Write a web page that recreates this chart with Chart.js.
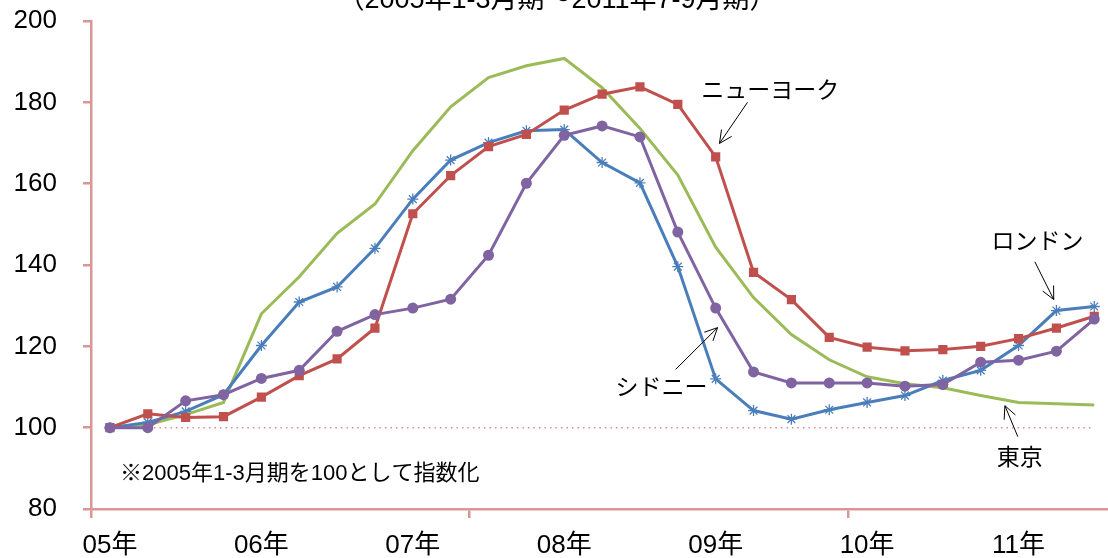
<!DOCTYPE html>
<html lang="ja">
<head>
<meta charset="utf-8">
<title>主要都市の住宅価格指数</title>
<script src="https://cdn.jsdelivr.net/npm/chart.js@4.4.1/dist/chart.umd.min.js"></script>
<style>
  html, body { margin: 0; padding: 0; background: #fff; overflow: hidden; }
  #wrap { width: 1120px; height: 558px; }
</style>
</head>
<body>
<div id="wrap"><canvas id="priceChart" width="1120" height="558"></canvas></div>
<script>
// quarters 2005 1-3 ... 2011 7-9
const quarters = [
  '05/1-3', '05/4-6', '05/7-9', '05/10-12',
  '06/1-3', '06/4-6', '06/7-9', '06/10-12',
  '07/1-3', '07/4-6', '07/7-9', '07/10-12',
  '08/1-3', '08/4-6', '08/7-9', '08/10-12',
  '09/1-3', '09/4-6', '09/7-9', '09/10-12',
  '10/1-3', '10/4-6', '10/7-9', '10/10-12',
  '11/1-3', '11/4-6', '11/7-9'
];
const yearTicks = ['05年', '06年', '07年', '08年', '09年', '10年', '11年'];

const newYork = [100, 103.4, 102.5, 102.7, 107.5, 112.8, 116.9, 124.5, 152.6, 162.0, 169.1, 172.1,
  178.1, 182.0, 183.8, 179.5, 166.6, 138.2, 131.5, 122.2, 119.8, 118.9, 119.2, 120.0, 121.9, 124.5, 127.4];
const london = [100, 101.3, 104.0, 108.1, 120.2, 130.9, 134.6, 144.1, 156.2, 165.8, 170.1, 173.0,
  173.3, 165.2, 160.2, 139.6, 112.0, 104.2, 102.1, 104.4, 106.2, 107.9, 111.6, 114.1, 120.2, 128.8, 129.8];
const sydney = [100, 100, 106.6, 108.1, 112.1, 114.1, 123.7, 127.8, 129.4, 131.6, 142.4, 160.1,
  171.9, 174.2, 171.5, 148.1, 129.4, 113.7, 111.0, 111.0, 111.0, 110.2, 110.6, 116.1, 116.6, 118.8, 126.7];
const tokyo = [100, 100.7, 103.2, 106.2, 128.0, 137.1, 147.8, 155.0, 168.1, 178.9, 186.1, 189.0,
  190.8, 183.6, 173.6, 162.1, 144.4, 132.0, 122.9, 116.7, 112.5, 110.8, 109.8, 107.9, 106.2, 105.9, 105.6];
const baseValue = 100;

// callouts in data space: [category index, value]
const callouts = [
  { text: 'ニューヨーク', at: [17.44, 183.2], from: [16.84, 180.0], to: [16.1, 169.9] },
  { text: 'ロンドン', at: [24.5, 146.0], from: [24.43, 140.8], to: [24.93, 131.5] },
  { text: 'シドニー', at: [14.57, 110.1], from: [14.94, 114.3], to: [16.05, 124.6] },
  { text: '東京', at: [24.03, 92.9], from: [23.98, 97.8], to: [23.64, 105.4] }
];

const FONT = "'Liberation Sans', 'Noto Sans CJK JP', sans-serif";
const JP_FONT = "'Noto Sans CJK JP', sans-serif";
const AXIS = '#D99694';

function drawArrow(ctx, x1, y1, x2, y2) {
  const ang = Math.atan2(y2 - y1, x2 - x1);
  const head = 14;
  ctx.beginPath();
  ctx.moveTo(x1, y1);
  ctx.lineTo(x2, y2);
  ctx.moveTo(x2 - head * Math.cos(ang - 0.45), y2 - head * Math.sin(ang - 0.45));
  ctx.lineTo(x2, y2);
  ctx.lineTo(x2 - head * Math.cos(ang + 0.45), y2 - head * Math.sin(ang + 0.45));
  ctx.stroke();
}

const overlay = {
  id: 'overlay',
  beforeDatasetsDraw(chart) {
    const { ctx, scales: { x, y } } = chart;
    const py = y.getPixelForValue(baseValue);
    ctx.save();
    ctx.strokeStyle = '#E8878A';
    ctx.lineWidth = 1.5;
    ctx.setLineDash([1.5, 4]);
    ctx.beginPath();
    ctx.moveTo(x.getPixelForValue(0), py);
    ctx.lineTo(x.getPixelForValue(quarters.length - 1), py);
    ctx.stroke();
    ctx.restore();
  },
  afterDraw(chart) {
    const { ctx, scales: { x, y } } = chart;
    ctx.save();
    ctx.fillStyle = '#000';

    // subtitle, cut off at the top edge
    ctx.font = '27px ' + FONT;
    ctx.textAlign = 'center';
    ctx.textBaseline = 'alphabetic';
    ctx.fillText('（2005年1-3月期～2011年7-9月期）', 557, 8);

    // note
    ctx.font = '22px ' + FONT;
    ctx.textAlign = 'left';
    ctx.textBaseline = 'middle';
    ctx.fillText('※2005年1-3月期を100として指数化', 120, 474);

    // callouts
    ctx.font = '23px ' + JP_FONT;
    ctx.textAlign = 'center';
    ctx.strokeStyle = '#000';
    ctx.lineWidth = 1;
    callouts.forEach(c => {
      ctx.fillText(c.text, x.getPixelForValue(c.at[0]), y.getPixelForValue(c.at[1]));
      drawArrow(ctx,
        x.getPixelForValue(c.from[0]), y.getPixelForValue(c.from[1]),
        x.getPixelForValue(c.to[0]), y.getPixelForValue(c.to[1]));
    });
    ctx.restore();
  }
};

const ctx = document.getElementById('priceChart').getContext('2d');
new Chart(ctx, {
  type: 'line',
  data: {
    labels: quarters,
    datasets: [
      {
        label: 'シドニー',
        data: sydney,
        borderColor: '#8064A2',
        backgroundColor: '#8064A2',
        borderWidth: 3,
        pointStyle: 'circle',
        pointRadius: 5.5,
        pointBorderWidth: 0
      },
      {
        label: 'ニューヨーク',
        data: newYork,
        borderColor: '#C0504D',
        backgroundColor: '#C0504D',
        borderWidth: 3,
        pointStyle: 'rect',
        pointRadius: 6.5,
        pointBorderWidth: 0
      },
      {
        label: 'ロンドン',
        data: london,
        borderColor: '#4A7EBB',
        backgroundColor: '#4A7EBB',
        borderWidth: 3,
        pointStyle: 'star',
        pointRadius: 5.5,
        pointBorderWidth: 1.3
      },
      {
        label: '東京',
        data: tokyo,
        borderColor: '#9BBB59',
        borderWidth: 3,
        pointRadius: 0
      }
    ]
  },
  options: {
    responsive: false,
    animation: false,
    layout: { padding: { top: 21, right: 4, left: 0, bottom: 0 } },
    plugins: {
      legend: { display: false },
      tooltip: { enabled: false }
    },
    scales: {
      x: {
        type: 'category',
        offset: true,
        grid: {
          offset: true,
          drawOnChartArea: false,
          tickLength: 9,
          lineWidth: 2.5,
          color: c => (c.index % 10 === 0 ? AXIS : 'rgba(0,0,0,0)')
        },
        border: { color: AXIS, width: 2.5 },
        ticks: {
          autoSkip: false,
          maxRotation: 0,
          padding: 12,
          color: '#000',
          font: { size: 26, family: FONT },
          callback: (v, i) => (i % 4 === 0 ? yearTicks[i / 4] : '')
        },
        afterFit: s => { s.height = 49; s.paddingLeft = 0; s.paddingRight = 0; }
      },
      y: {
        min: 80,
        max: 200,
        ticks: {
          stepSize: 20,
          padding: 26,
          color: '#000',
          font: { size: 26, family: FONT }
        },
        grid: { drawOnChartArea: false, tickLength: 8, color: AXIS, lineWidth: 2.5 },
        border: { color: AXIS, width: 2.5 },
        afterFit: s => { s.width = 91; s.paddingTop = 0; s.paddingBottom = 0; }
      }
    }
  },
  plugins: [overlay]
});
</script>
</body>
</html>
